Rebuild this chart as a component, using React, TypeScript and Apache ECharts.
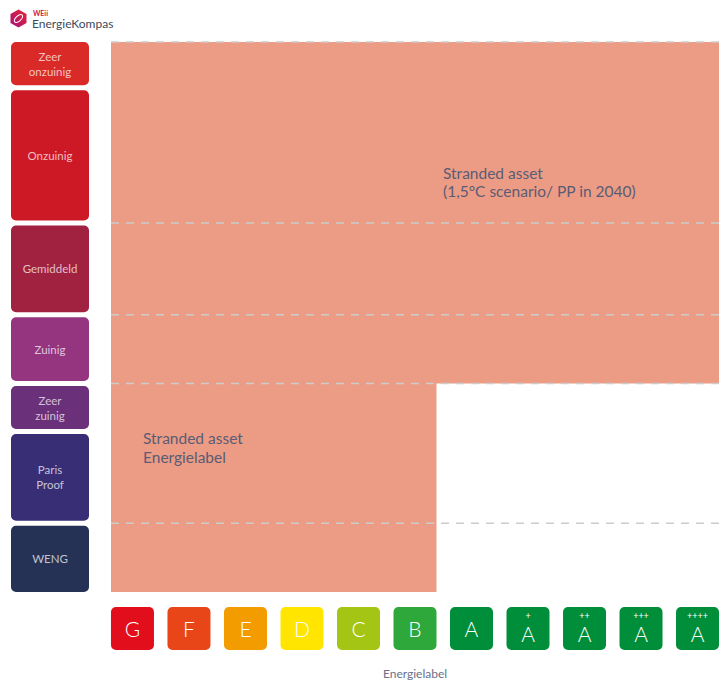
import React, { useEffect, useRef } from "react";
import * as echarts from "echarts";

// ---- data ----
const energyLabels = ["G", "F", "E", "D", "C", "B", "A", "A+", "A++", "A+++", "A++++"];
const energyLabelColors = [
  "#E30E1B", "#E84618", "#F39C00", "#FFE500", "#A5C515", "#2EA83A",
  "#008E3A", "#008E3A", "#008E3A", "#008E3A", "#008E3A",
];
const classNames = ["WENG", "Paris\nProof", "Zeer\nzuinig", "Zuinig", "Gemiddeld", "Onzuinig", "Zeer\nonzuinig"];
const classBounds = [0, 30, 70, 91, 121, 161, 220, 240];
const classColors = ["#263255", "#372E75", "#6A307A", "#953580", "#A12240", "#CD1926", "#DA2A28"];
const gridLineValues = [30, 91, 121, 161, 240];
// stranded zones: first label index, last label index, lower value, upper value
const zoneFirstLabel = [0, 0];
const zoneLastLabel = [5, 10];
const zoneLower = [0, 91];
const zoneUpper = [240, 240];
const zoneTexts = ["Stranded asset\nEnergielabel", "Stranded asset\n(1,5°C scenario/ PP in 2040)"];

const FONT = "Lato, 'Noto Sans', sans-serif";
const HALF = 0.38;
const FILL = "#EC9C84";

export default function App() {
  const ref = useRef<HTMLDivElement>(null);
  useEffect(() => {
    document.body.style.margin = "0";
    const chart = echarts.init(ref.current!, undefined, { renderer: "svg" });
    const yMin = classBounds[0];
    const yMax = classBounds[classBounds.length - 1];

    const zoneData = zoneFirstLabel.map((f, i) => [f, zoneLastLabel[i], zoneLower[i], zoneUpper[i]]);
    const classData = classNames.map((n, i) => [i, classBounds[i], classBounds[i + 1]]);
    const labelData = energyLabels.map((l, i) => [i, 0]);

    const option: any = {
      animation: false,
      backgroundColor: "#ffffff",
      grid: { left: 111, top: 42, width: 608, height: 550, outerBoundsMode: "none", containLabel: false },
      xAxis: {
        type: "value",
        min: -HALF,
        max: energyLabels.length - 1 + HALF,
        name: "Energielabel",
        nameLocation: "middle",
        nameGap: 75,
        nameTextStyle: { color: "#6A6F8C", fontSize: 12, fontFamily: FONT },
        axisLine: { show: false },
        axisTick: { show: false },
        axisLabel: { show: false },
        splitLine: { show: false },
      },
      yAxis: {
        type: "value",
        min: yMin,
        max: yMax,
        axisLine: { show: false },
        axisTick: { show: false },
        axisLabel: { show: false },
        splitLine: { show: false },
      },
      series: [
        {
          type: "custom",
          clip: false,
          z: 1,
          data: zoneData,
          renderItem: (params: any, api: any) => {
            const p0 = api.coord([api.value(0) - HALF, api.value(3)]);
            const p1 = api.coord([api.value(1) + HALF, api.value(2)]);
            return {
              type: "rect",
              shape: { x: p0[0], y: p0[1], width: p1[0] - p0[0], height: p1[1] - p0[1] },
              style: { fill: FILL },
            };
          },
        },
        {
          type: "custom",
          clip: false,
          z: 2,
          data: gridLineValues.map((v) => [v]),
          renderItem: (params: any, api: any) => {
            const a = api.coord([-HALF, api.value(0)]);
            const b = api.coord([energyLabels.length - 1 + HALF, api.value(0)]);
            return {
              type: "line",
              shape: { x1: a[0], y1: a[1], x2: b[0], y2: b[1] },
              style: { stroke: "#CCCCCC", lineWidth: 1.6, lineDash: [8, 7] },
            };
          },
        },
        {
          type: "custom",
          clip: false,
          z: 3,
          data: classData,
          renderItem: (params: any, api: any) => {
            const i = api.value(0);
            const lo = api.value(1);
            const hi = api.value(2);
            const yTop = api.coord([0, hi])[1] + (hi === yMax ? 0 : 2.5);
            const yBot = api.coord([0, lo])[1] - (lo === yMin ? 0 : 2.5);
            const gx = api.coord([-HALF, 0])[0];
            const x = gx - 100;
            const w = 78;
            return {
              type: "group",
              children: [
                {
                  type: "rect",
                  shape: { x, y: yTop, width: w, height: yBot - yTop, r: 5 },
                  style: { fill: classColors[i] },
                },
                {
                  type: "text",
                  style: {
                    text: classNames[i],
                    x: x + w / 2,
                    y: (yTop + yBot) / 2,
                    align: "center",
                    verticalAlign: "middle",
                    fill: "rgba(255,255,255,0.72)",
                    fontSize: 11.5,
                    fontFamily: FONT,
                    lineHeight: 15,
                  },
                },
              ],
            };
          },
        },
        {
          type: "custom",
          clip: false,
          z: 3,
          data: labelData,
          renderItem: (params: any, api: any) => {
            const i = api.value(0);
            const p = api.coord([i, 0]);
            const x = p[0] - 21.5;
            const y = p[1] + 15;
            const lab = energyLabels[i];
            const plus = lab.slice(1);
            const children: any[] = [
              {
                type: "rect",
                shape: { x, y, width: 43, height: 43, r: 5 },
                style: { fill: energyLabelColors[i] },
              },
            ];
            if (plus.length) {
              children.push({
                type: "text",
                style: {
                  text: plus,
                  x: p[0],
                  y: y + 8,
                  align: "center",
                  verticalAlign: "middle",
                  fill: "#ffffff",
                  fontSize: 9,
                  fontFamily: FONT,
                },
              });
              children.push({
                type: "text",
                style: {
                  text: lab[0],
                  x: p[0],
                  y: y + 26,
                  align: "center",
                  verticalAlign: "middle",
                  fill: "#ffffff",
                  fontSize: 21,
                  fontWeight: 300,
                  fontFamily: FONT,
                },
              });
            } else {
              children.push({
                type: "text",
                style: {
                  text: lab,
                  x: p[0],
                  y: y + 21.5,
                  align: "center",
                  verticalAlign: "middle",
                  fill: "#ffffff",
                  fontSize: 21,
                  fontWeight: 300,
                  fontFamily: FONT,
                },
              });
            }
            return { type: "group", children };
          },
        },
      ],
      graphic: [
        {
          type: "text",
          x: 143,
          y: 447.5,
          z: 10,
          style: {
            text: zoneTexts[0],
            fill: "#5B5B75",
            fontSize: 15.5,
            fontFamily: FONT,
            lineHeight: 19,
            verticalAlign: "middle",
          },
        },
        {
          type: "text",
          x: 443,
          y: 182,
          z: 10,
          style: {
            text: zoneTexts[1],
            fill: "#5B5B75",
            fontSize: 15.5,
            fontFamily: FONT,
            lineHeight: 18.5,
            verticalAlign: "middle",
          },
        },
        {
          type: "polygon",
          shape: {
            points: [
              [18.5, 9.5], [26.5, 14], [26.5, 23], [18.5, 27.5], [10.5, 23], [10.5, 14],
            ],
          },
          style: {
            fill: new echarts.graphic.LinearGradient(0, 1, 1, 0, [
              { offset: 0, color: "#A5127F" },
              { offset: 1, color: "#E6262E" },
            ]),
          },
        },
        {
          type: "ellipse",
          x: 18.5,
          y: 18.5,
          rotation: Math.PI / 4,
          shape: { cx: 0, cy: 0, rx: 5, ry: 2.6 },
          style: { fill: "none", stroke: "#ffffff", lineWidth: 1 },
        },
        {
          type: "text",
          x: 33,
          y: 9,
          style: { text: "WEii", fill: "#D0203A", fontSize: 7, fontWeight: "bold", fontFamily: FONT },
        },
        {
          type: "text",
          x: 32,
          y: 17,
          style: { text: "EnergieKompas", fill: "#3C4B5A", fontSize: 12, fontFamily: FONT },
        },
      ],
    };
    chart.setOption(option);
    return () => chart.dispose();
  }, []);
  return <div ref={ref} style={{ position: "fixed", left: 0, top: 0, width: 722, height: 680 }} />;
}
